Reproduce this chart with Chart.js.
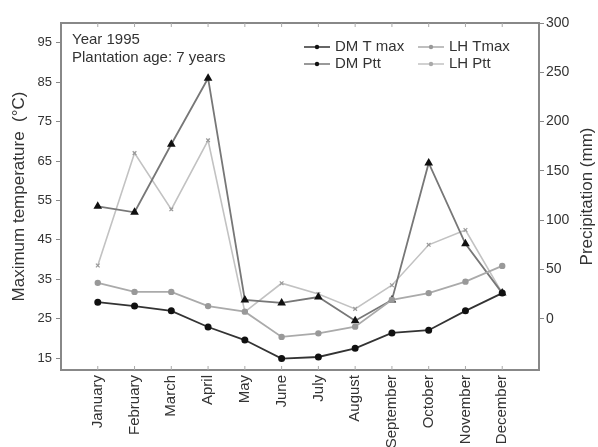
<!DOCTYPE html>
<html>
<head>
<meta charset="utf-8">
<script src="https://cdn.jsdelivr.net/npm/chart.js@4.4.1/dist/chart.umd.min.js"></script>
<style>
  body { margin: 0; background: #fff; }
</style>
</head>
<body>
<canvas id="climateChart" width="598" height="447"></canvas>
<script>
// Months on the x axis
const months = ['January', 'February', 'March', 'April', 'May', 'June',
                'July', 'August', 'September', 'October', 'November', 'December'];

// Tick labels
const tempTicks = [15, 25, 35, 45, 55, 65, 75, 85, 95];
const rainTicks = [0, 50, 100, 150, 200, 250, 300];

// Maximum temperature (°C), left axis
const dmTmax = [29.2, 28.2, 27.0, 22.9, 19.6, 14.9, 15.3, 17.5, 21.4, 22.1, 27.0, 31.5];
const lhTmax = [34.1, 31.8, 31.8, 28.2, 26.8, 20.4, 21.3, 23.0, 29.8, 31.5, 34.4, 38.4];

// Precipitation (mm), right axis
const dmPtt = [114, 108, 177, 244, 19, 16, 22, -2, 19, 158, 76, 26];
const lhPtt = [54, 168, 111, 181, 7, 36, 25, 10, 34, 75, 90, 26];

const FONT = '"Liberation Sans", Arial, sans-serif';
const toPoints = arr => arr.map((v, i) => ({ x: i + 1, y: v }));

// frame, inner ticks, notes, legend and axis titles
const decorations = {
    id: 'decorations',
    afterDraw(chart) {
        const { ctx, chartArea: a, scales } = chart;
        ctx.save();

        // plot frame
        ctx.strokeStyle = '#888';
        ctx.lineWidth = 2;
        ctx.strokeRect(a.left, a.top, a.right - a.left, a.bottom - a.top);

        // small inward ticks at each month, bottom and top
        ctx.lineWidth = 1;
        ctx.strokeStyle = '#aaa';
        months.forEach((m, i) => {
            const px = scales.x.getPixelForValue(i + 1);
            ctx.beginPath();
            ctx.moveTo(px, a.bottom); ctx.lineTo(px, a.bottom - 4);
            ctx.moveTo(px, a.top); ctx.lineTo(px, a.top + 4);
            ctx.stroke();
        });

        // notes
        ctx.fillStyle = '#333';
        ctx.font = '15px ' + FONT;
        ctx.textBaseline = 'middle';
        ctx.textAlign = 'left';
        ctx.fillText('Year 1995', 72, 40);
        ctx.fillText('Plantation age: 7 years', 72, 58);

        // legend, two columns
        const ds = chart.data.datasets;
        const slots = [
            { i: 0, x: 304, y: 47 },
            { i: 2, x: 304, y: 64 },
            { i: 1, x: 418, y: 47 },
            { i: 3, x: 418, y: 64 }
        ];
        slots.forEach(s => {
            const d = ds[s.i];
            ctx.strokeStyle = d.borderColor;
            ctx.lineWidth = 1.5;
            ctx.beginPath();
            ctx.moveTo(s.x, s.y); ctx.lineTo(s.x + 26, s.y);
            ctx.stroke();
            ctx.fillStyle = d.pointBackgroundColor;
            ctx.beginPath();
            ctx.arc(s.x + 13, s.y, 2.2, 0, Math.PI * 2);
            ctx.fill();
            ctx.fillStyle = '#333';
            ctx.fillText(d.label, s.x + 31, s.y);
        });

        // axis titles
        ctx.font = '17px ' + FONT;
        ctx.textAlign = 'center';
        const cy = (a.top + a.bottom) / 2;
        ctx.translate(19, cy);
        ctx.rotate(-Math.PI / 2);
        ctx.fillText('Maximum temperature  (°C)', 0, 0);
        ctx.rotate(Math.PI / 2);
        ctx.translate(-19, -cy);
        ctx.translate(587, cy);
        ctx.rotate(-Math.PI / 2);
        ctx.fillText('Precipitation (mm)', 0, 0);
        ctx.restore();
    }
};

const setTicks = list => scale => { scale.ticks = list.map(v => ({ value: v })); };

const config = {
    type: 'line',
    data: {
        datasets: [
            {
                label: 'DM T max',
                data: toPoints(dmTmax),
                yAxisID: 'y',
                borderColor: '#333',
                borderWidth: 1.8,
                pointStyle: 'circle',
                pointRadius: 2.6,
                pointBackgroundColor: '#111',
                pointBorderColor: '#111'
            },
            {
                label: 'LH Tmax',
                data: toPoints(lhTmax),
                yAxisID: 'y',
                borderColor: '#aaa',
                borderWidth: 1.8,
                pointStyle: 'circle',
                pointRadius: 2.3,
                pointBackgroundColor: '#999',
                pointBorderColor: '#999'
            },
            {
                label: 'DM Ptt',
                data: toPoints(dmPtt),
                yAxisID: 'y1',
                borderColor: '#777',
                borderWidth: 1.8,
                pointStyle: 'triangle',
                pointRadius: 3.2,
                pointBackgroundColor: '#111',
                pointBorderColor: '#111'
            },
            {
                label: 'LH Ptt',
                data: toPoints(lhPtt),
                yAxisID: 'y1',
                borderColor: '#c2c2c2',
                borderWidth: 1.6,
                pointStyle: 'crossRot',
                pointRadius: 2.6,
                pointBackgroundColor: '#aaa',
                pointBorderColor: '#999',
                pointBorderWidth: 1.2
            }
        ]
    },
    options: {
        responsive: false,
        animation: false,
        layout: { padding: { top: 23, left: 0, right: 0, bottom: 0 } },
        plugins: { legend: { display: false }, tooltip: { enabled: false } },
        scales: {
            x: {
                type: 'linear',
                min: 0,
                max: 13,
                afterBuildTicks: setTicks(months.map((m, i) => i + 1)),
                afterFit: s => { s.height = 77; },
                grid: { drawOnChartArea: false, drawTicks: false },
                border: { display: false },
                ticks: {
                    autoSkip: false,
                    minRotation: 90,
                    maxRotation: 90,
                    padding: 5,
                    color: '#333',
                    font: { family: FONT, size: 15 },
                    callback: v => months[v - 1] || ''
                }
            },
            y: {
                position: 'left',
                min: 12,
                max: 100,
                afterBuildTicks: setTicks(tempTicks),
                afterFit: s => { s.width = 61; },
                grid: { drawOnChartArea: false, tickLength: 5, color: '#888' },
                border: { display: false },
                ticks: { padding: 4, color: '#333', font: { family: FONT, size: 13 } }
            },
            y1: {
                position: 'right',
                min: -52,
                max: 300,
                afterBuildTicks: setTicks(rainTicks),
                afterFit: s => { s.width = 59; },
                grid: { drawOnChartArea: false, tickLength: 5, color: '#888' },
                border: { display: false },
                ticks: { padding: 2, color: '#333', font: { family: FONT, size: 14 } }
            }
        }
    },
    plugins: [decorations]
};

const climateChart = new Chart(document.getElementById('climateChart').getContext('2d'), config);
</script>
</body>
</html>
